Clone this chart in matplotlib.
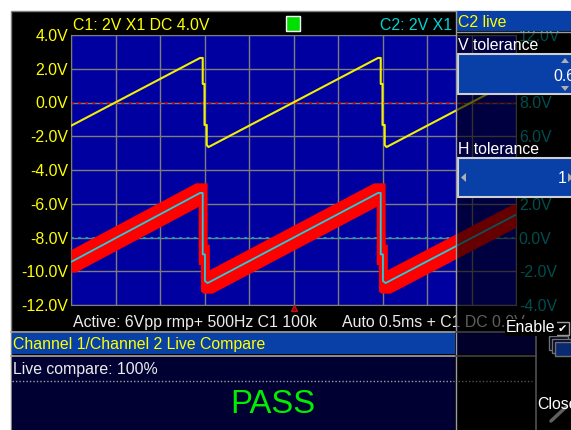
import numpy as np
import matplotlib
matplotlib.use("Agg")
import matplotlib.pyplot as plt
from matplotlib.patches import Rectangle, Polygon
from numpy.lib.stride_tricks import sliding_window_view

plt.rcParams['font.family'] = ['Liberation Sans', 'DejaVu Sans']

W, H = 571, 430

# traces, time in divisions (0.5 ms/div), volts
c1_t = [0.0, 2.90, 2.96, 2.96, 3.00, 3.00, 3.05, 3.05, 3.09,
        6.90, 6.96, 6.96, 7.00, 7.00, 7.05, 7.05, 7.09, 10.0]
c1_v = [-1.38, 2.64, 2.64, 1.10, 1.10, -1.33, -1.33, -2.52, -2.64,
        2.64, 2.64, 1.10, 1.10, -1.33, -1.33, -2.52, -2.64, 1.39]

c2_t = [0.0, 2.90, 2.96, 2.96, 3.01, 3.01, 3.07,
        6.90, 6.96, 6.96, 7.01, 7.01, 7.07, 10.0]
c2_v = [-1.45, 2.64, 2.64, -1.00, -1.00, -2.58, -2.70,
        2.64, 2.64, -1.00, -1.00, -2.58, -2.70, 1.35]

c2_offset = -8.0
v_tol = 0.6
h_tol = 0.1
trig_pos = 5.0

y_ticks = [4, 2, 0, -2, -4, -6, -8, -10, -12]
c1_labels = ['4.0V', '2.0V', '0.0V', '-2.0V', '-4.0V', '-6.0V', '-8.0V', '-10.0V', '-12.0V']
c2_labels = ['12.0V', '10.0V', '8.0V', '6.0V', '4.0V', '2.0V', '0.0V', '-2.0V', '-4.0V']

c1_title = 'C1: 2V X1 DC 4.0V'
c2_title = 'C2: 2V X1'
status_left = 'Active: 6Vpp rmp+ 500Hz C1 100k'
status_right = 'Auto 0.5ms + C1 DC 0.0V'
panel_title = 'C2 live'
v_tol_text = '0.6'
h_tol_text = '1'
compare_title = 'Channel 1/Channel 2 Live Compare'
compare_score = 'Live compare: 100%'
result = 'PASS'

FS = 11.4
BLUE_BAR = '#0840a8'
GRAY = '#9a9a9a'


def rect(a, x0, y0, x1, y1, **kw):
    a.add_patch(Rectangle((x0, y0), x1 - x0, y1 - y0, **kw))


fig = plt.figure(figsize=(W / 100, H / 100), dpi=100)
fig.patch.set_facecolor('white')

# background screen
bg = fig.add_axes([0, 0, 1, 1], zorder=0)
bg.set_xlim(0, W)
bg.set_ylim(H, 0)
bg.axis('off')
rect(bg, 11, 11, W + 2, H + 2, fc='black', ec='#808080', lw=1)
bg.text(73, 30, c1_title, color='#ffff00', fontsize=FS, va='baseline')
bg.text(452, 30, c2_title, color='#00d4d4', fontsize=FS, va='baseline', ha='right')
rect(bg, 286, 16, 300, 31, fc='#00e000', ec='white', lw=1)
bg.text(73, 327, status_left, color='#ececec', fontsize=FS, va='baseline')
bg.text(342, 327, status_right, color='#ececec', fontsize=FS, va='baseline')

# scope grid
ax = fig.add_axes([71 / W, 1 - 305 / H, 445 / W, 270 / H], zorder=1)
ax.set_facecolor('#0000a0')
ax.set_xlim(0, 10)
ax.set_ylim(-12, 4)
ax.set_xticks(range(11))
ax.set_yticks(y_ticks)
ax.set_yticklabels(c1_labels)
ax.tick_params(length=0, labelbottom=False, labelcolor='#ffff00', labelsize=FS, pad=2)
ax.grid(True, color='#7c7c7c', lw=1.0)
for s in ax.spines.values():
    s.set_color('#7c7c7c')

ax2 = ax.twinx()
ax2.set_zorder(1.5)
ax2.set_ylim(-12, 4)
ax2.set_yticks(y_ticks)
ax2.set_yticklabels(c2_labels)
ax2.tick_params(length=0, labelcolor='#00c0c0', labelsize=FS, pad=2)
for s in ax2.spines.values():
    s.set_visible(False)

ax.axhline(0, color='#c00000', lw=1.3, ls=(0, (1.5, 2.5)), zorder=2)
ax.axhline(c2_offset, color='#00b0c0', lw=1.3, ls=(0, (1.5, 2.5)), zorder=2)

# tolerance mask around C2
tt = np.linspace(0, 10, 4001)
c2s = np.interp(tt, c2_t, c2_v)
k = int(round(h_tol / (tt[1] - tt[0])))
win = sliding_window_view(np.pad(c2s, k, mode='edge'), 2 * k + 1)
upper = win.max(axis=1) + v_tol + c2_offset
lower = win.min(axis=1) - v_tol + c2_offset
ax.fill_between(tt, lower, upper, color='#ff0000', lw=0, zorder=3)

ax.plot(c2_t, np.array(c2_v) + c2_offset, color='#20d0e0', lw=1.3, zorder=4)
ax.plot(c1_t, c1_v, color='#f0f000', lw=1.5, zorder=5)
ax.plot([trig_pos], [-12.2], marker='^', ms=5, mfc='#800000', mec='#c01010',
        clip_on=False, zorder=6)

# foreground panels
fg = fig.add_axes([0, 0, 1, 1], zorder=3)
fg.patch.set_visible(False)
fg.set_xlim(0, W)
fg.set_ylim(H, 0)
fg.axis('off')

# dimmed side panel
rect(fg, 456, 32, W + 2, 331, fc='black', alpha=0.6, lw=0)
fg.plot([456, 456], [11, H], color=GRAY, lw=1)
rect(fg, 457, 11, W + 2, 31, fc=BLUE_BAR, lw=0)
fg.plot([457, W], [32, 32], color=GRAY, lw=1)
fg.text(458, 27, panel_title, color='#ffff00', fontsize=FS, va='baseline')

fg.text(458, 50, 'V tolerance', color='white', fontsize=FS, va='baseline')
rect(fg, 458, 54, W + 6, 94, fc=BLUE_BAR, ec='#d0d0d0', lw=1.5)
fg.text(575, 81, v_tol_text, color='white', fontsize=FS, va='baseline', ha='right')
fg.add_patch(Polygon([[561, 63], [569, 63], [565, 58]], fc='#b0b0b0', lw=0))
fg.add_patch(Polygon([[561, 86], [569, 86], [565, 91]], fc='#b0b0b0', lw=0))

fg.text(458, 154, 'H tolerance', color='white', fontsize=FS, va='baseline')
rect(fg, 458, 158, W + 6, 197, fc=BLUE_BAR, ec='#d0d0d0', lw=1.5)
fg.text(567, 183, h_tol_text, color='white', fontsize=FS, va='baseline', ha='right')
fg.add_patch(Polygon([[466, 173], [466, 182], [461, 177.5]], fc='#b0b0b0', lw=0))
fg.add_patch(Polygon([[568, 173], [568, 182], [573, 177.5]], fc='#b0b0b0', lw=0))

fg.text(506, 332, 'Enable', color='white', fontsize=FS, va='baseline',
        bbox=dict(fc='black', ec='none', pad=1))
rect(fg, 555, 322, 569, 335, fc='black', ec='#a0a0a0', lw=1)
fg.text(562, 329, '\u2714', color='white', fontsize=8, ha='center', va='center',
        family=['DejaVu Sans'])

# compare panel
fg.plot([11, 456], [331.5, 331.5], color='#a8a8a8', lw=1.2)
fg.plot([456, 536], [331.5, 331.5], color='#404040', lw=1.2)
rect(fg, 11.5, 333, 455, 354, fc=BLUE_BAR, lw=0)
fg.plot([11, 456], [355.5, 355.5], color='#a8a8a8', lw=1.2)
fg.plot([456, 536], [355.5, 355.5], color='#404040', lw=1.2)
fg.text(13, 349, compare_title, color='#ffff00', fontsize=FS, va='baseline')
rect(fg, 11.5, 357, 455, H + 2, fc='#000033', lw=0)
fg.text(13, 374, compare_score, color='#ececec', fontsize=FS, va='baseline')
fg.plot([12, 454], [381, 381], color='#a0a0a0', lw=1, ls=(0, (1, 1.5)))
fg.text(272.5, 413, result, color='#00ee00', fontsize=23.7, va='baseline', ha='center')

rect(fg, 457, 333, 535, 354, fc='#00002a', lw=0)
fg.plot([458, 532], [381, 381], color='#505050', lw=1, ls=(0, (1, 1.5)))
fg.plot([536, 536], [334, H], color='#505050', lw=1.2)

# window stack icon and close button
for i, c in enumerate(['#000018', '#000024', '#0a2a70']):
    rect(fg, 549 + 3 * i, 336 + 3 * i, 568 + 3 * i, 350 + 3 * i, fc=c, ec='#707070', lw=1)
fg.text(537, 409, 'Close', color='white', fontsize=FS, va='baseline')
fg.plot([551, 566], [421, 407], color='#606060', lw=2.5, solid_capstyle='round')

fig.savefig('out.png', dpi=100)
